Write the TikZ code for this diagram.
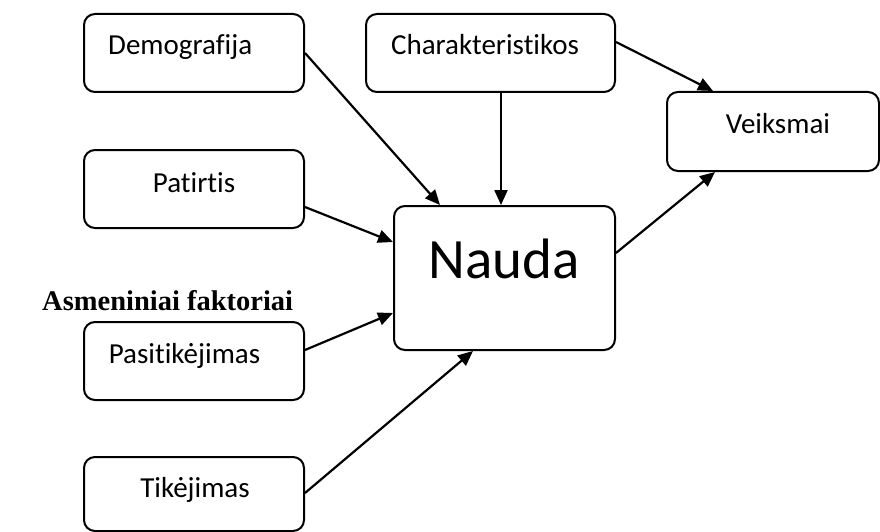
\documentclass[tikz,border=0pt]{standalone}
\usepackage{fontspec}
\setmainfont{Carlito}[Ligatures={NoCommon,NoContextual}]
\newfontfamily\headfont{Liberation Serif}
\usetikzlibrary{arrows.meta}
\tikzset{
  box/.style={draw, line width=2pt, rounded corners=11pt, inner sep=0pt},
  lbl/.style={anchor=base, inner sep=0pt, font=\fontsize{29}{31}\selectfont},
  conn/.style={line width=2.2pt, -{Triangle[length=15pt,width=13pt]}}
}
\begin{document}
\begin{tikzpicture}[x=1pt,y=-1pt]
\useasboundingbox (0,0) rectangle (880,532);
% boxes
\node[box, minimum width=220pt, minimum height=78pt] (demo) at (194,53) {};
\node[box, minimum width=249pt, minimum height=78pt] (char) at (490.5,53) {};
\node[box, minimum width=212pt, minimum height=79pt] (veik) at (773,131.5) {};
\node[box, minimum width=220pt, minimum height=78pt] (pat) at (194,189) {};
\node[box, minimum width=221pt, minimum height=144pt] (nauda) at (504.5,278) {};
\node[box, minimum width=220pt, minimum height=78pt] (pas) at (194,361) {};
\node[box, minimum width=220pt, minimum height=74pt] (tik) at (194,494) {};
% labels
\node[lbl, anchor=base west] (tdemo) at (108,55) {Demografija};
\node[lbl] (tchar) at (485,55) {Charakteristikos};
\node[lbl] (tveik) at (778,133) {Veiksmai};
\node[lbl] (tpat) at (194,192) {Patirtis};
\node[lbl, font=\fontsize{57}{60}\selectfont] (tnauda) at (504,278) {Nauda};
\node[lbl] (tpas) at (184.5,363) {Pasitikėjimas};
\node[lbl] (ttik) at (195,497) {Tikėjimas};
\node[lbl, anchor=base west, font=\headfont\bfseries\fontsize{28.5}{30}\selectfont] (head) at (42,310) {Asmeniniai faktoriai};
% connectors
\draw[conn] (demo.east) -- ([xshift=-64.5pt]nauda.north);
\draw[conn] ([xshift=10.5pt]char.south) -- ([xshift=-3.5pt]nauda.north);
\draw[conn] ([yshift=11pt]char.east) -- ([xshift=-60pt]veik.north);
\draw[conn] ([yshift=25pt]nauda.east) -- ([xshift=-58pt]veik.south);
\draw[conn] ([yshift=-18pt]pat.east) -- ([yshift=36pt]nauda.west);
\draw[conn] ([yshift=11pt]pas.east) -- ([yshift=-35pt]nauda.west);
\draw[conn] ([yshift=1pt]tik.east) -- ([xshift=-31.5pt]nauda.south);
\end{tikzpicture}
\end{document}
